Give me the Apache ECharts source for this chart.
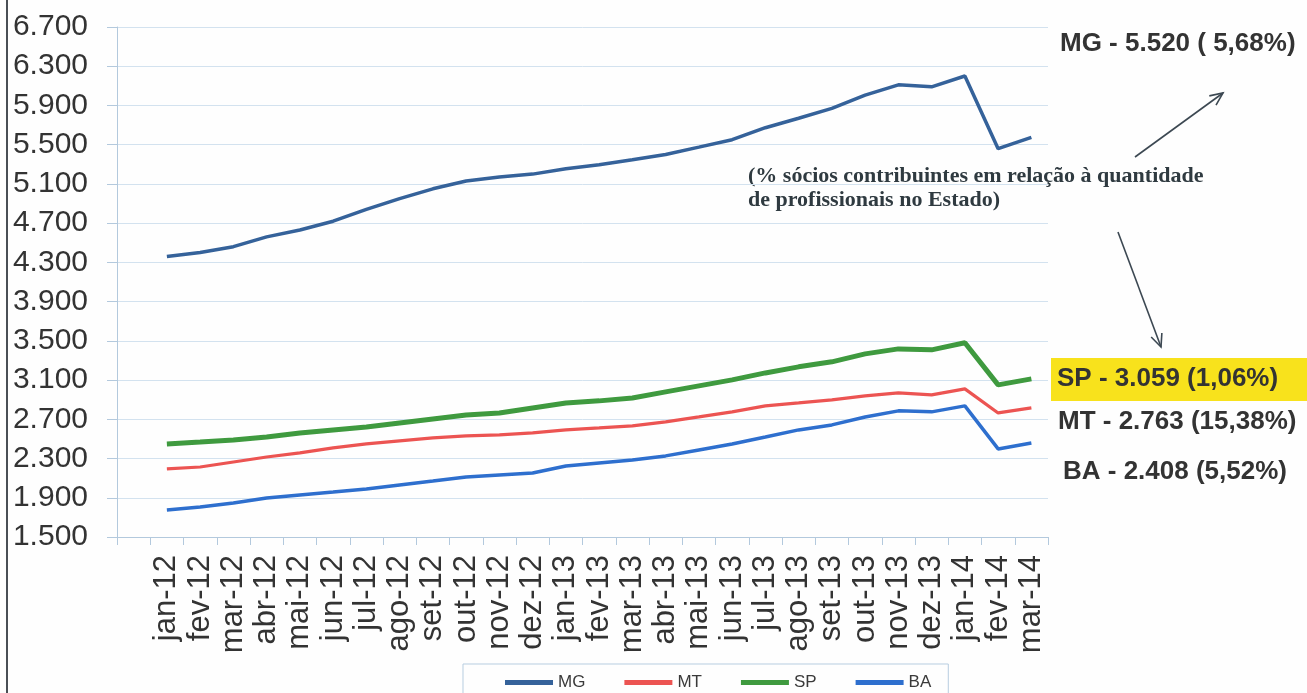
<!DOCTYPE html>
<html>
<head>
<meta charset="utf-8">
<script src="https://cdn.jsdelivr.net/npm/echarts@6/dist/echarts.min.js"></script>
<style>
  html, body { margin: 0; padding: 0; background: #fefefe; }
  #chart { width: 1307px; height: 693px; }
</style>
</head>
<body>
<div id="chart"></div>
<script>
// meses (o primeiro espaço do eixo fica vazio, como no original)
const months = ['jan-12', 'fev-12', 'mar-12', 'abr-12', 'mai-12', 'jun-12', 'jul-12', 'ago-12', 'set-12',
  'out-12', 'nov-12', 'dez-12', 'jan-13', 'fev-13', 'mar-13', 'abr-13', 'mai-13', 'jun-13', 'jul-13',
  'ago-13', 'set-13', 'out-13', 'nov-13', 'dez-13', 'jan-14', 'fev-14', 'mar-14']

const mg = [4360, 4400, 4460, 4560, 4630, 4720, 4840, 4950, 5050, 5130, 5170, 5200, 5255, 5296, 5347,
  5400, 5475, 5551, 5673, 5770, 5870, 6005, 6110, 6090, 6200, 5459, 5575]
const mt = [2194, 2214, 2265, 2316, 2357, 2408, 2449, 2480, 2510, 2531, 2541, 2561, 2592, 2612, 2633,
  2673, 2724, 2776, 2837, 2867, 2898, 2939, 2969, 2949, 3010, 2765, 2816]
const sp = [2449, 2469, 2490, 2520, 2561, 2592, 2622, 2663, 2704, 2745, 2765, 2816, 2867, 2888, 2918,
  2980, 3041, 3102, 3173, 3235, 3286, 3367, 3418, 3408, 3480, 3051, 3112]
const ba = [1776, 1806, 1847, 1898, 1929, 1959, 1990, 2031, 2071, 2112, 2133, 2153, 2224, 2255, 2286,
  2327, 2388, 2449, 2520, 2592, 2643, 2724, 2786, 2776, 2837, 2398, 2459]

const yMin = 1500
const yMax = 6700
const yStep = 400

const notes = [
  { text: 'MG - 5.520 ( 5,68%)', x: 1060, y: 44 },
  { text: 'SP - 3.059 (1,06%)', x: 1057, y: 379 },
  { text: 'MT - 2.763 (15,38%)', x: 1058, y: 422 },
  { text: 'BA - 2.408 (5,52%)', x: 1063, y: 472 }
]

const colors = { MG: '#35629a', MT: '#ec5452', SP: '#3f9a3f', BA: '#2e6fce' }

function arrow(x1, y1, x2, y2) {
  const a = Math.atan2(y2 - y1, x2 - x1)
  const len = 14, spread = 0.42
  const p1 = [x2 - len * Math.cos(a - spread), y2 - len * Math.sin(a - spread)]
  const p2 = [x2 - len * Math.cos(a + spread), y2 - len * Math.sin(a + spread)]
  const st = { stroke: '#3c4852', lineWidth: 1.6, fill: null }
  return [
    { type: 'line', shape: { x1, y1, x2, y2 }, style: st },
    { type: 'polyline', shape: { points: [p1, [x2, y2], p2] }, style: st }
  ]
}

const pad = arr => [null].concat(arr)

const chart = echarts.init(document.getElementById('chart'))

const option = {
  backgroundColor: '#fefefe',
  animation: false,
  grid: { left: 117, right: 259, top: 27, bottom: 156 },
  legend: {
    data: ['MG', 'MT', 'SP', 'BA'],
    left: 463,
    top: 664,
    icon: 'rect',
    itemWidth: 48,
    itemHeight: 5,
    itemGap: 39,
    padding: [10, 17, 30, 42],
    borderColor: '#b7cde0',
    borderWidth: 1,
    textStyle: { fontFamily: 'Liberation Sans', fontSize: 17, color: '#3a3a3a' }
  },
  xAxis: {
    type: 'category',
    data: [''].concat(months),
    boundaryGap: true,
    axisLine: { lineStyle: { color: '#b3c9dd', width: 1 } },
    axisTick: { show: true, interval: 0, length: 8, lineStyle: { color: '#b3c9dd' } },
    axisLabel: {
      interval: 0,
      rotate: 90,
      margin: 18,
      fontFamily: 'Liberation Sans',
      fontSize: 31,
      color: '#333'
    },
    splitLine: { show: false }
  },
  yAxis: {
    type: 'value',
    min: yMin,
    max: yMax,
    interval: yStep,
    axisLine: { show: true, lineStyle: { color: '#b3c9dd', width: 1 } },
    axisTick: { show: true, length: 10, lineStyle: { color: '#b3c9dd' } },
    axisLabel: {
      margin: 29,
      fontFamily: 'Liberation Sans',
      fontSize: 30,
      color: '#333',
      formatter: v => (v / 1000).toFixed(3)
    },
    splitLine: { lineStyle: { color: '#d3e2ef', width: 1 } }
  },
  series: [
    { name: 'MG', type: 'line', data: pad(mg), symbol: 'none', color: colors.MG, lineStyle: { width: 3.5 } },
    { name: 'MT', type: 'line', data: pad(mt), symbol: 'none', color: colors.MT, lineStyle: { width: 3.2 } },
    { name: 'SP', type: 'line', data: pad(sp), symbol: 'none', color: colors.SP, lineStyle: { width: 5 } },
    { name: 'BA', type: 'line', data: pad(ba), symbol: 'none', color: colors.BA, lineStyle: { width: 3.5 } }
  ],
  graphic: [
    // borda esquerda da digitalização
    { type: 'line', shape: { x1: 7, y1: 0, x2: 7, y2: 693 }, style: { stroke: '#4a4f55', lineWidth: 2 } },
    // fundo amarelo do SP
    { type: 'rect', shape: { x: 1051, y: 358, width: 256, height: 43 }, style: { fill: '#f8e21c' } },
    ...notes.map(n => ({
      type: 'text', x: n.x, y: n.y,
      style: {
        text: n.text, fill: '#333', font: 'bold 26px "Liberation Sans"',
        textVerticalAlign: 'middle', verticalAlign: 'middle'
      }
    })),
    {
      type: 'text', x: 748, y: 164,
      style: {
        text: '(% sócios contribuintes em relação à quantidade\nde profissionais no Estado)',
        fill: '#2f3a40', font: 'bold 22px "Liberation Serif"', lineHeight: 24
      }
    },
    ...arrow(1135, 157, 1223, 93),
    ...arrow(1118, 232, 1161, 347)
  ]
}

chart.setOption(option)
</script>
</body>
</html>
